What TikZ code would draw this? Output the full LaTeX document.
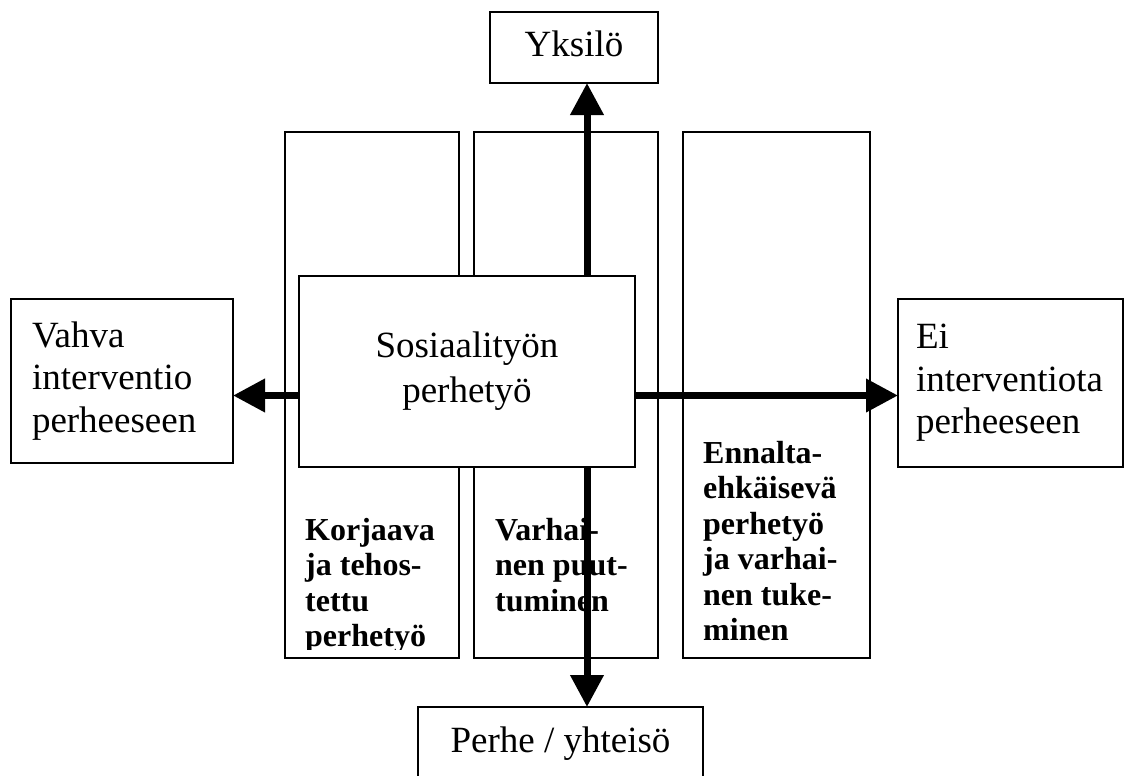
\documentclass[tikz,border=0pt]{standalone}
\usepackage{fontspec}
\setmainfont{Liberation Serif}
\usetikzlibrary{arrows.meta}

\begin{document}
\begin{tikzpicture}[x=1pt,y=-1pt,
	box/.style={draw,line width=1.2pt,inner sep=0,outer sep=0},
	big/.style={font=\fontsize{37}{42.5}\selectfont},
	oneline/.style={text height=25.3pt,text depth=8pt},
	strong/.style={font=\fontsize{32}{35.5}\selectfont\bfseries,inner sep=0,anchor=north west,align=left},
	axis/.style={line width=7pt,-{Triangle[length=32pt,width=32pt]}}]
	\clip (0,0) rectangle (1125,776);
	\node[box,minimum width=174pt,minimum height=526pt] (3) at (372,395) {};
	\node[box,minimum width=184pt,minimum height=526pt] (4) at (566,395) {};
	\node[box,minimum width=187pt,minimum height=526pt] (5) at (776.5,395) {};
	\begin{scope}
		\clip (285,132) rectangle (870,649);
		\node[strong] (3t) at (305,515.15) {\strut Korjaava\\ja tehos-\\tettu\\perhetyö};
		\node[strong] (4t) at (495,515.15) {\strut Varhai-\\nen puut-\\tuminen};
		\node[strong] (5t) at (703,438.15) {\strut Ennalta-\\ehkäisevä\\perhetyö\\ja varhai-\\nen tuke-\\minen};
	\end{scope}
	\node[box,font=\fontsize{37}{45}\selectfont,fill=white,align=center,minimum width=336pt,minimum height=191pt] (1) at (467,371.5) {Sosiaalityön\\perhetyö};
	\node[box,big,oneline,minimum width=168pt,minimum height=71pt] (2) at (574,47.5) {Yksilö};
	\node[box,big,oneline,minimum width=285pt,minimum height=72.7pt] (6) at (560.5,743.35) {Perhe / yhteisö};
	\node[box,big,align=left,inner xsep=21pt,text width=180pt,minimum height=164pt] (7) at (122,381) {Vahva\\interventio\\perheeseen};
	\node[box,big,align=left,inner xsep=18pt,text width=189pt,minimum height=168pt] (8) at (1010.5,383) {Ei\\interventiota\\perheeseen};
	\coordinate (0) at (587,395.5);
	\draw[axis] (0 |- 1.north) -- (0 |- 2.south);
	\draw[axis] (0 |- 1.south) -- (0 |- 6.north);
	\draw[axis] (1.west |- 0) -- (7.east |- 0);
	\draw[axis] (1.east |- 0) -- (8.west |- 0);
\end{tikzpicture}
\end{document}
